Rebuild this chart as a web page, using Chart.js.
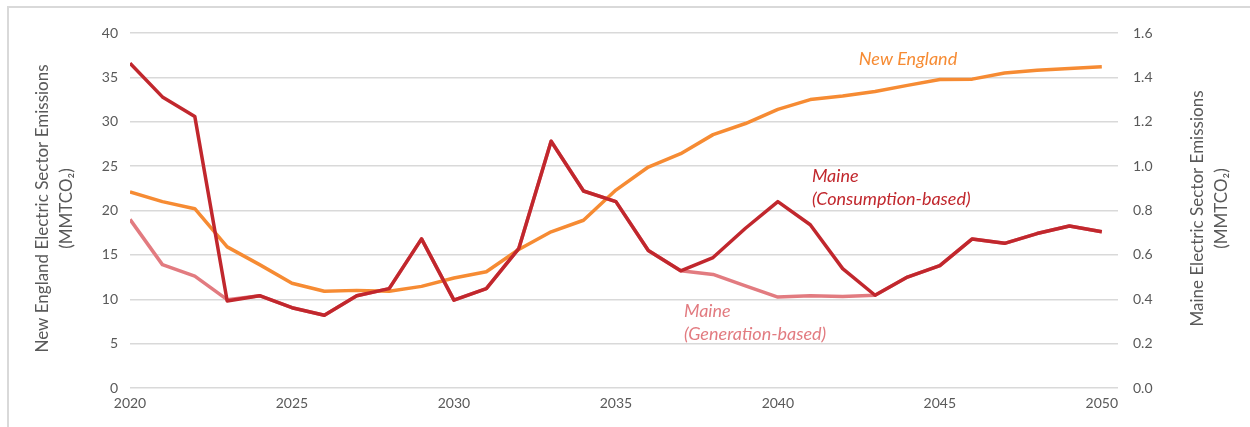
<!DOCTYPE html>
<html>
<head>
<meta charset="utf-8">
<script src="https://cdn.jsdelivr.net/npm/chart.js@4/dist/chart.umd.min.js"></script>
<style>
    html, body { margin: 0; padding: 0; background: #fff; }
    #wrap { position: relative; width: 1250px; height: 427px; overflow: hidden; }
    #frame {
        position: absolute; left: 7px; top: 6px; right: 0; bottom: 0;
        border-top: 2px solid #d9d9d9; border-left: 2px solid #d9d9d9;
    }
    #chart { position: absolute; left: 0; top: 0; }
</style>
</head>
<body>
<div id="wrap">
    <div id="frame"></div>
    <canvas id="chart" width="1250" height="427"></canvas>
</div>
<script>
/* -------- Data -------- */
const years = [2020, 2021, 2022, 2023, 2024, 2025, 2026, 2027, 2028, 2029, 2030,
    2031, 2032, 2033, 2034, 2035, 2036, 2037, 2038, 2039, 2040,
    2041, 2042, 2043, 2044, 2045, 2046, 2047, 2048, 2049, 2050];

// New England, MMTCO2 (left axis)
const newEngland = [22.1, 21.0, 20.2, 15.9, 13.9, 11.8, 10.9, 11.0, 10.9, 11.45, 12.4,
    13.1, 15.6, 17.6, 18.9, 22.3, 24.9, 26.4, 28.55, 29.8, 31.4,
    32.5, 32.9, 33.4, 34.1, 34.75, 34.8, 35.5, 35.8, 36.0, 36.2];

// Maine consumption-based, MMTCO2 (right axis)
const maineConsumption = [1.464, 1.312, 1.224, 0.392, 0.416, 0.362, 0.328, 0.416, 0.448, 0.672, 0.396,
    0.448, 0.628, 1.112, 0.888, 0.84, 0.62, 0.528, 0.588, 0.72, 0.84,
    0.736, 0.538, 0.418, 0.50, 0.552, 0.672, 0.652, 0.696, 0.73, 0.704];

// Maine generation-based, MMTCO2 (right axis)
const maineGeneration = [0.76, 0.556, 0.504, 0.398, 0.416, 0.362, 0.328, 0.416, 0.448, 0.672, 0.396,
    0.448, 0.628, 1.112, 0.888, 0.84, 0.62, 0.528, 0.512, 0.46, 0.41,
    0.416, 0.412, 0.418, 0.50, 0.552, 0.672, 0.652, 0.696, 0.73, 0.704];

const xTicks = [2020, 2025, 2030, 2035, 2040, 2045, 2050];

/* -------- Colours / fonts -------- */
const ORANGE = '#f68b33';
const RED = '#c1272d';
const PINK = '#e27b80';
const GRID = '#d9d9d9';
const TEXT = '#595959';
const FONT = 'Lato, "Open Sans", sans-serif';

/* -------- Labels drawn in data coordinates -------- */
const seriesLabels = [
    { lines: ['New England'], x: 2042.5, y: 37.0, color: ORANGE },
    { lines: ['Maine', '(Consumption-based)'], x: 2041.05, y: 23.85, color: RED },
    { lines: ['Maine', '(Generation-based)'], x: 2037.1, y: 8.64, color: PINK }
];

const axisTitles = {
    left: ['New England Electric Sector Emissions', '(MMTCO\u2082)'],
    right: ['Maine Electric Sector Emissions', '(MMTCO\u2082)']
};

const labelPlugin = {
    id: 'labels',
    afterDraw(chart) {
        const { ctx, chartArea, scales } = chart;
        ctx.save();

        // series annotations
        ctx.font = 'italic 18px ' + FONT;
        ctx.textAlign = 'left';
        ctx.textBaseline = 'middle';
        seriesLabels.forEach(l => {
            ctx.fillStyle = l.color;
            const px = scales.x.getPixelForValue(l.x);
            const py = scales.y.getPixelForValue(l.y);
            l.lines.forEach((t, i) => ctx.fillText(t, px, py + i * 23));
        });

        // axis titles, both reading bottom-to-top
        const midY = (chartArea.top + chartArea.bottom) / 2 - 2;
        ctx.font = '17px ' + FONT;
        ctx.fillStyle = TEXT;
        ctx.textAlign = 'center';
        ctx.textBaseline = 'alphabetic';
        [['left', 48], ['right', 1203]].forEach(([side, x0]) => {
            ctx.save();
            ctx.translate(x0, midY);
            ctx.rotate(-Math.PI / 2);
            axisTitles[side].forEach((t, i) => ctx.fillText(t, 0, i * 24));
            ctx.restore();
        });

        ctx.restore();
    }
};

/* -------- Chart -------- */
new Chart(document.getElementById('chart').getContext('2d'), {
    type: 'line',
    data: {
        datasets: [
            {
                label: 'Maine (Consumption-based)',
                data: years.map((y, i) => ({ x: y, y: maineConsumption[i] })),
                yAxisID: 'y2',
                borderColor: RED,
                borderWidth: 3.5,
                order: 1
            },
            {
                label: 'New England',
                data: years.map((y, i) => ({ x: y, y: newEngland[i] })),
                yAxisID: 'y',
                borderColor: ORANGE,
                borderWidth: 3.5,
                order: 2
            },
            {
                label: 'Maine (Generation-based)',
                data: years.map((y, i) => ({ x: y, y: maineGeneration[i] })),
                yAxisID: 'y2',
                borderColor: PINK,
                borderWidth: 3.5,
                order: 3
            }
        ]
    },
    options: {
        responsive: false,
        animation: false,
        events: [],
        elements: {
            point: { radius: 0 },
            line: { tension: 0, borderJoinStyle: 'round', borderCapStyle: 'butt' }
        },
        layout: { padding: { top: 33, left: 0, right: 0, bottom: 0 } },
        plugins: {
            legend: { display: false },
            tooltip: { enabled: false }
        },
        scales: {
            x: {
                type: 'linear',
                min: 2020,
                max: 2050.5,
                afterBuildTicks: s => { s.ticks = xTicks.map(v => ({ value: v })); },
                afterFit: s => { s.height = 39; },
                grid: { display: false, drawTicks: false },
                border: { display: false },
                ticks: {
                    color: TEXT,
                    font: { family: FONT, size: 14 },
                    padding: 7,
                    maxRotation: 0,
                    callback: v => String(v)
                }
            },
            y: {
                position: 'left',
                min: 0,
                max: 40,
                afterFit: s => { s.width = 130; },
                grid: { color: GRID, lineWidth: 1.5, drawTicks: false },
                border: { display: false },
                ticks: {
                    stepSize: 5,
                    color: TEXT,
                    font: { family: FONT, size: 14 },
                    padding: 12
                }
            },
            y2: {
                position: 'right',
                min: 0,
                max: 1.6,
                afterFit: s => { s.width = 132; },
                grid: { display: false, drawTicks: false },
                border: { display: false },
                ticks: {
                    stepSize: 0.2,
                    color: TEXT,
                    font: { family: FONT, size: 14 },
                    padding: 15,
                    callback: v => v.toFixed(1)
                }
            }
        }
    },
    plugins: [labelPlugin]
});
</script>
</body>
</html>
